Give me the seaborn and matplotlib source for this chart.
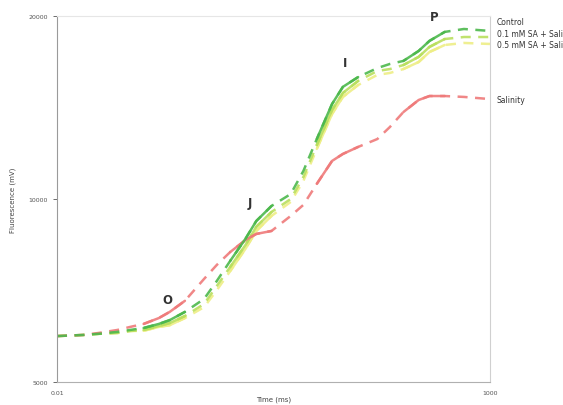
import numpy as np
import pandas as pd
import seaborn as sns
import matplotlib
matplotlib.use("Agg")
import matplotlib.pyplot as plt
from matplotlib.ticker import FixedLocator, NullLocator, FixedFormatter

# Chlorophyll a fluorescence (OJIP) transients
time_ms = [0.01, 0.02, 0.03, 0.05, 0.07, 0.1, 0.15, 0.2, 0.3, 0.5, 0.7, 1, 1.5, 2, 3,
           5, 7, 10, 15, 20, 30, 50, 70, 100, 150, 200, 300, 500, 1000]

control = [5950, 5975, 6000, 6045, 6090, 6135, 6230, 6320, 6520, 6850, 7330, 7910,
           8600, 9200, 9740, 10190, 11120, 12550, 14330, 15290, 15870, 16420, 16680,
           16870, 17520, 18200, 18830, 19040, 18900]
sa01_salinity = [5950, 5975, 6000, 6020, 6065, 6090, 6180, 6250, 6420, 6720, 7190, 7730,
                 8400, 9000, 9520, 10000, 10870, 12270, 14010, 14940, 15640, 16240, 16360,
                 16610, 17130, 17790, 18330, 18470, 18470]
sa05_salinity = [5950, 5975, 6000, 6020, 6065, 6070, 6160, 6200, 6370, 6640, 7080, 7610,
                 8280, 8860, 9380, 9890, 10710, 12090, 13800, 14720, 15400, 16000, 16120,
                 16360, 16800, 17450, 17920, 18060, 17990]
salinity = [5950, 5975, 6020, 6090, 6160, 6230, 6370, 6520, 6800, 7390, 7790, 8180,
            8560, 8760, 8860, 9380, 9780, 10590, 11550, 11860, 12180, 12550, 13140,
            13900, 14550, 14770, 14770, 14720, 14600]

series_names = ["Control", "0.1 mM SA + Salinity", "0.5 mM SA + Salinity", "Salinity"]
series_values = [control, sa01_salinity, sa05_salinity, salinity]

y_ticks = [5000, 10000, 20000]
y_tick_labels = ["5000", "10000", "20000"]
x_ticks = [0.01, 1000]
x_tick_labels = ["0.01", "1000"]

df = pd.DataFrame({
    "Time (ms)": np.tile(time_ms, len(series_names)),
    "Fluorescence": np.concatenate(series_values),
    "Treatment": np.repeat(series_names, len(time_ms)),
})

palette = {
    "Control": "#4cb84c",
    "0.1 mM SA + Salinity": "#b9df5e",
    "0.5 mM SA + Salinity": "#eeee86",
    "Salinity": "#ef7a7a",
}

sns.set_theme(style="white")
plt.rcParams["font.family"] = ["DejaVu Sans"]

fig = plt.figure(figsize=(5.63, 4.06), dpi=100)
ax = fig.add_axes([57 / 563, 1 - 383 / 406, 433 / 563, 366 / 406])

# draw order: yellow first, control on top
order = ["0.5 mM SA + Salinity", "0.1 mM SA + Salinity", "Salinity", "Control"]
for name in order:
    sub = df[df["Treatment"] == name]
    sns.lineplot(data=sub, x="Time (ms)", y="Fluorescence", ax=ax,
                 color=palette[name], linewidth=1.8, dashes=False,
                 linestyle=(0, (4, 3)), legend=False, alpha=0.9)
    # denser sampling near the characteristic steps reads as solid stroke
    for lo, hi in [(0.1, 0.3), (1, 3), (10, 30), (100, 300)]:
        seg = sub[(sub["Time (ms)"] >= lo) & (sub["Time (ms)"] <= hi)]
        sns.lineplot(data=seg, x="Time (ms)", y="Fluorescence", ax=ax,
                     color=palette[name], linewidth=1.8, legend=False, alpha=0.9)

ax.set_xscale("log")
ax.set_yscale("log")
ax.set_xlim(0.01, 1000)
ax.set_ylim(5000, 20000)
ax.xaxis.set_major_locator(FixedLocator(x_ticks))
ax.xaxis.set_major_formatter(FixedFormatter(x_tick_labels))
ax.xaxis.set_minor_locator(NullLocator())
ax.yaxis.set_major_locator(FixedLocator(y_ticks))
ax.yaxis.set_major_formatter(FixedFormatter(y_tick_labels))
ax.yaxis.set_minor_locator(NullLocator())

ax.tick_params(axis="both", labelsize=4.5, colors="#555555", length=3, width=0.6,
               direction="out", left=True, bottom=False)
ax.tick_params(axis="x", pad=3)
ax.set_xlabel("Time (ms)", fontsize=5, color="#444444", labelpad=0)
ax.set_ylabel("Fluorescence (mV)", fontsize=5, color="#444444", labelpad=9)

for side, col in [("left", "#9a9a9a"), ("bottom", "#b0b0b0"),
                  ("right", "#d0d0d0"), ("top", "#e6e6e6")]:
    ax.spines[side].set_color(col)
    ax.spines[side].set_linewidth(0.8)

# characteristic points of the transient
for letter, t, f in [("O", 0.186, 6670), ("J", 1.69, 9630),
                     ("I", 21.2, 16360), ("P", 226, 19480)]:
    ax.text(t, f, letter, fontsize=8.5, fontweight="bold", color="#333333",
            ha="center", va="bottom")

# end-of-curve labels
for name, yf in [("Control", 0.986), ("0.1 mM SA + Salinity", 0.951),
                 ("0.5 mM SA + Salinity", 0.921), ("Salinity", 0.773)]:
    ax.text(1.016, yf, name, transform=ax.transAxes, fontsize=5.5, color="#333333",
            ha="left", va="center", clip_on=False)

fig.savefig("out.png", dpi=100)
